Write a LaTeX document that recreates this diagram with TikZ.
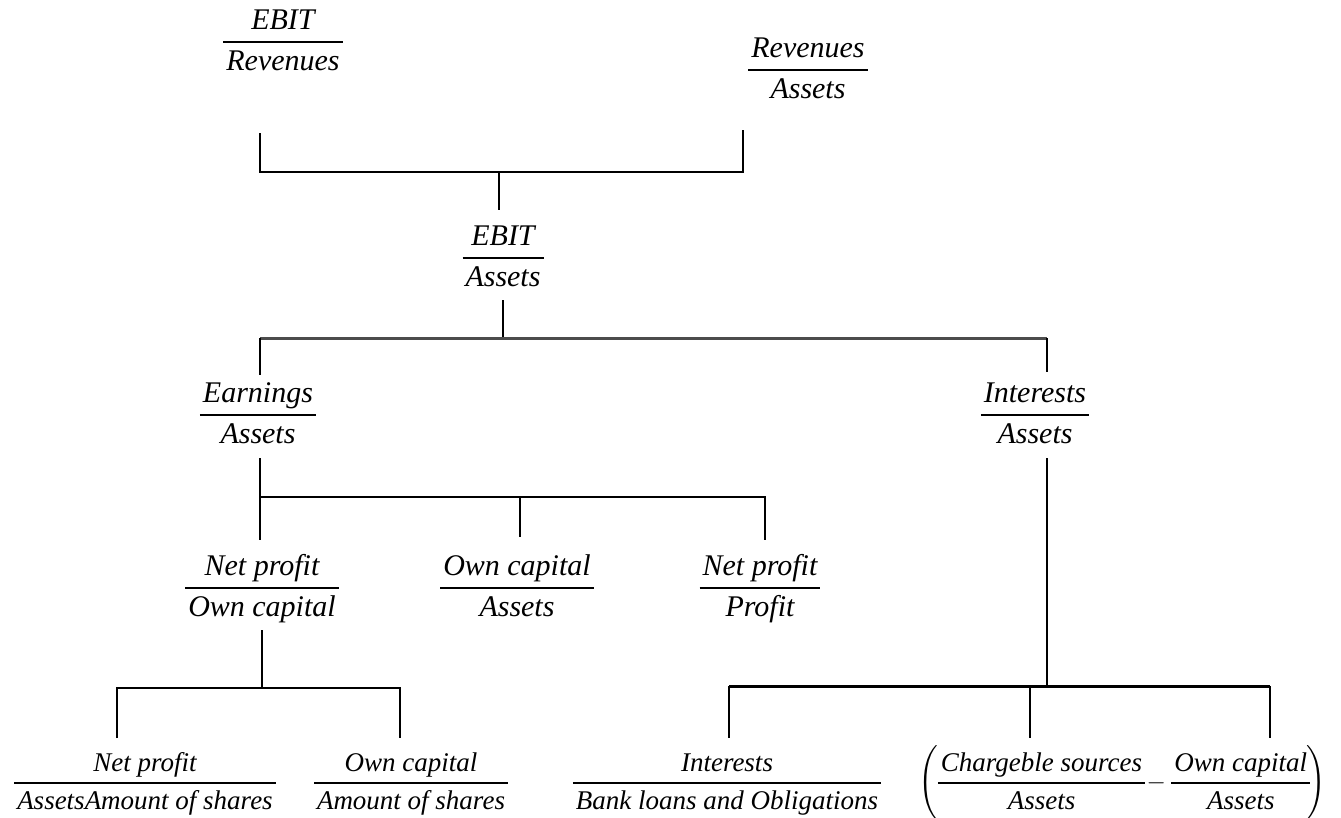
\documentclass[tikz,border=0pt]{standalone}
\usepackage{amsmath}
\usepackage{fontspec}
\setmainfont{Liberation Serif}
\setlength{\arrayrulewidth}{1.3pt}
\newcommand{\frb}[2]{{\renewcommand{\arraystretch}{1.1}\begin{tabular}{@{\hspace{3pt}}c@{\hspace{3pt}}}\itshape #1\\\hline\itshape #2\end{tabular}}}
\newcommand{\frs}[2]{{\renewcommand{\arraystretch}{1.15}\begin{tabular}{@{\hspace{3pt}}c@{\hspace{3pt}}}\itshape #1\\\hline\itshape #2\end{tabular}}}
\tikzset{
  big/.style={inner sep=0pt, font=\fontsize{30}{36}\selectfont},
  small/.style={inner sep=0pt, font=\fontsize{27}{32}\selectfont},
  ln/.style={line width=1.4pt, black},
  thk/.style={line width=3pt, black!70},
  thkb/.style={line width=3pt, black}
}
\begin{document}
\begin{tikzpicture}[x=1pt,y=-1pt]
\useasboundingbox (0,0) rectangle (1341,817);
% nodes
\node[big] (er) at (283,42) {\frb{EBIT}{Revenues}};
\node[big] (ra) at (808,70) {\frb{Revenues}{Assets}};
\node[big] (ea) at (503,258) {\frb{EBIT}{Assets}};
\node[big] (ga) at (258,415) {\frb{Earnings}{Assets}};
\node[big] (ia) at (1035,415) {\frb{Interests}{Assets}};
\node[big] (np) at (262,588) {\frb{Net profit}{Own capital}};
\node[big] (oa) at (517,588) {\frb{Own capital}{Assets}};
\node[big] (pp) at (760,588) {\frb{Net profit}{Profit}};
\node[small] (ns) at (145,783) {\frs{Net profit}{AssetsAmount of shares}};
\node[small] (os) at (411,783) {\frs{Own capital}{Amount of shares}};
\node[small] (ib) at (727,783) {\frs{Interests}{Bank loans and Obligations}};
\node[small] (cs) at (1122,783) {$\left(\frs{Chargeble sources}{Assets}\!-\frs{Own capital}{Assets}\!\right)$};
% junction coordinates
\coordinate (t1) at (260,133); \coordinate (t2) at (743,130);
\coordinate (h1) at (260,172); \coordinate (h2) at (743,172);
\coordinate (hm) at (499,172); \coordinate (hmb) at (499,210);
\coordinate (m0) at (503,300); \coordinate (m1) at (503,338);
\coordinate (ml) at (260,338); \coordinate (mr) at (1047,338);
\coordinate (mlb) at (260,375); \coordinate (mrb) at (1047,372);
\coordinate (e0) at (260,458); \coordinate (e1) at (260,497);
\coordinate (eL) at (260,540); \coordinate (eM) at (520,497); \coordinate (eMb) at (520,537);
\coordinate (eR) at (765,497); \coordinate (eRb) at (765,540);
\coordinate (n0) at (262,630); \coordinate (n1) at (262,688);
\coordinate (nl) at (117,688); \coordinate (nr) at (400,688);
\coordinate (nlb) at (117,738); \coordinate (nrb) at (400,738);
\coordinate (i0) at (1047,458); \coordinate (i1) at (1047,686);
\coordinate (il) at (729,686); \coordinate (ir) at (1270,686); \coordinate (im) at (1030,686);
\coordinate (ilb) at (729,738); \coordinate (irb) at (1270,738); \coordinate (imb) at (1030,738);
% connectors
\draw[ln] (t1) -- (h1) -- (h2) -- (t2);
\draw[ln] (hm) -- (hmb);
\draw[ln] (m0) -- (m1);
\draw[thk] (ml) -- (mr);
\draw[ln] (ml) -- (mlb);
\draw[ln] (mr) -- (mrb);
\draw[ln] (e0) -- (eL);
\draw[ln] (e1) -- (eR) -- (eRb);
\draw[ln] (eM) -- (eMb);
\draw[ln] (n0) -- (n1);
\draw[ln] (nlb) -- (nl) -- (nr) -- (nrb);
\draw[ln] (i0) -- (i1);
\draw[thkb] (il) -- (ir);
\draw[ln] (il) -- (ilb);
\draw[ln] (im) -- (imb);
\draw[ln] (ir) -- (irb);
\end{tikzpicture}
\end{document}
